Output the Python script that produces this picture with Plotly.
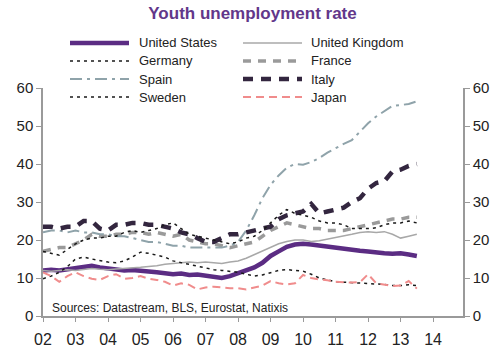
import plotly.graph_objects as go

# quarterly time points 2002.00 .. 2013.50
years = [2002 + q * 0.25 for q in range(47)]

us = [12.0, 12.2, 12.0, 12.3, 12.5, 12.8, 13.2, 12.8, 12.5, 12.2, 12.0, 12.1,
      12.0, 11.7, 11.5, 11.3, 11.0, 11.2, 10.8, 10.9, 10.5, 10.3, 10.0, 10.5,
      11.2, 12.0, 12.8, 14.0, 15.8, 17.0, 18.2, 18.8, 19.0, 18.8, 18.5, 18.3,
      18.0, 17.6, 17.5, 17.2, 17.0, 16.6, 16.5, 16.4, 16.5, 16.2, 15.8]
uk = [12.0, 11.8, 12.0, 12.2, 12.0, 12.3, 12.5, 12.3, 12.2, 12.4, 12.5, 12.7,
      12.8, 13.0, 13.2, 13.6, 13.8, 14.0, 14.2, 14.0, 14.2, 14.0, 13.8, 14.2,
      14.5, 15.2, 16.2, 17.0, 18.2, 19.0, 19.6, 20.0, 20.0, 19.6, 19.8, 20.2,
      20.5, 21.0, 21.5, 22.0, 22.2, 22.0, 22.2, 21.5, 20.5, 21.0, 21.5]
germany = [9.8, 10.5, 11.5, 13.0, 15.0, 15.5, 15.0, 14.5, 14.2, 14.0, 14.5, 15.5,
           16.8, 16.5, 16.0, 15.5, 14.5, 14.0, 13.5, 13.0, 12.5, 12.2, 12.0, 11.8,
           11.5, 11.0, 10.5, 10.8, 11.5, 12.0, 12.2, 12.0, 11.8, 11.0, 10.0, 9.5,
           9.0, 8.9, 8.8, 8.7, 8.5, 8.4, 8.3, 8.0, 8.0, 8.2, 8.0]
france = [17.0, 17.5, 18.0, 18.0, 19.0, 20.0, 21.5, 21.0, 21.0, 21.5, 21.5, 22.0,
          22.0, 21.5, 22.0, 21.5, 21.0, 21.5, 20.0, 19.5, 19.0, 19.0, 18.5, 18.0,
          18.5, 19.0, 19.5, 21.0, 22.5, 23.5, 24.5, 24.0, 23.5, 23.0, 23.0, 22.5,
          22.5, 22.5, 23.0, 23.5, 24.0, 24.5, 25.0, 25.5, 25.5, 26.0, 26.0]
spain = [22.0, 22.5, 22.5, 22.0, 22.5, 22.0, 22.0, 21.5, 21.5, 21.0, 21.0, 20.5,
         20.0, 19.5, 19.5, 19.0, 18.5, 18.5, 18.0, 18.0, 18.0, 18.0, 18.0, 18.5,
         19.5, 22.5, 26.5, 31.0, 34.5, 37.0, 39.0, 40.0, 39.8, 40.5, 41.6, 43.0,
         44.2, 45.3, 46.3, 48.5, 50.7, 52.5, 53.8, 55.3, 55.5, 55.8, 56.5]
italy = [23.5, 23.5, 23.0, 23.5, 23.5, 25.0, 25.0, 23.0, 22.5, 24.0, 24.0, 24.5,
         24.5, 24.0, 24.0, 23.5, 23.0, 22.0, 21.5, 20.5, 19.5, 19.5, 20.5, 21.5,
         21.5, 22.0, 22.5, 23.0, 23.5, 25.5, 26.5, 27.0, 27.5, 29.5, 27.0, 27.5,
         28.0, 28.5, 30.0, 31.0, 33.5, 35.0, 35.5, 38.0, 38.5, 39.5, 40.0]
sweden = [17.0, 16.5, 16.0, 17.5, 19.0, 20.0, 20.5, 20.5, 21.0, 21.0, 22.0, 22.5,
          22.0, 22.5, 23.0, 24.0, 24.5, 23.0, 21.5, 21.0, 20.5, 20.0, 19.5, 19.0,
          19.5, 20.5, 21.0, 22.5, 24.5, 26.5, 28.0, 27.0, 26.5, 26.0, 25.0, 24.5,
          24.5, 24.0, 23.0, 23.0, 23.0, 23.2, 24.0, 24.5, 24.5, 25.0, 24.5]
japan = [11.5, 10.5, 9.0, 10.5, 11.5, 10.5, 9.8, 9.5, 10.5, 11.0, 9.8, 10.0,
         10.5, 9.8, 9.5, 9.0, 8.0, 8.6, 8.2, 7.0, 7.5, 7.7, 7.5, 7.3,
         7.3, 7.0, 7.5, 8.0, 9.2, 8.6, 8.3, 8.6, 10.8, 10.0, 9.6, 9.4,
         9.0, 8.9, 8.8, 8.9, 11.0, 8.6, 8.2, 7.9, 8.0, 9.2, 7.2]

tick_years = list(range(2002, 2015))
tick_labels = ["%02d" % (y % 100) for y in tick_years]
y_ticks = [0, 10, 20, 30, 40, 50, 60]

series_names = ["United States", "United Kingdom", "Germany", "France",
                "Spain", "Italy", "Sweden", "Japan"]
series_values = [us, uk, germany, france, spain, italy, sweden, japan]
series_lines = [
    dict(color="#5b2c83", width=4.5, dash="solid"),
    dict(color="#a8a8a8", width=1.5, dash="solid"),
    dict(color="#1a1a1a", width=1.5, dash="3px,4px"),
    dict(color="#9a9a9a", width=3.5, dash="8px,7px"),
    dict(color="#8fa3aa", width=2, dash="12px,5px,3px,5px"),
    dict(color="#33263f", width=4.5, dash="10px,8px"),
    dict(color="#1a1a1a", width=1.5, dash="3px,4px"),
    dict(color="#f08c8c", width=2, dash="8px,5px"),
]

fig = go.Figure()
for name, vals, line in zip(series_names, series_values, series_lines):
    fig.add_trace(go.Scatter(x=years, y=vals, mode="lines", name=name, line=line,
                             showlegend=False))

# invisible trace so the right-hand axis is drawn
fig.add_trace(go.Scatter(x=[2002], y=[None], yaxis="y2", showlegend=False,
                         hoverinfo="skip", mode="lines"))

# legend drawn as a 2-column key above the plot (paper coordinates)
W, H = 500, 357
ML, MR, MT, MB = 43, 37, 88, 41
pw, ph = W - ML - MR, H - MT - MB


def px_x(px):
    return (px - ML) / pw


def px_y(py):
    return (H - MB - py) / ph


shapes = []
annotations = []
row_y = [43, 61, 79, 97]
col_x = [(70, 129, 137), (243, 302, 309)]
for i, (name, line) in enumerate(zip(series_names, series_lines)):
    row, col = i // 2, i % 2
    x0, x1, xt = col_x[col]
    yy = px_y(row_y[row])
    shapes.append(dict(type="line", xref="paper", yref="paper",
                       x0=px_x(x0), x1=px_x(x1), y0=yy, y1=yy,
                       line=dict(color=line["color"], width=line["width"],
                                 dash=line["dash"])))
    annotations.append(dict(text=name, xref="paper", yref="paper", x=px_x(xt), y=yy,
                            xanchor="left", yanchor="middle", showarrow=False,
                            font=dict(family="Liberation Sans, Arial", size=13,
                                      color="#222")))

annotations.append(dict(text="Sources: Datastream, BLS, Eurostat, Natixis",
                        xref="paper", yref="paper", x=px_x(50), y=px_y(308),
                        xanchor="left", yanchor="middle", showarrow=False,
                        font=dict(family="Liberation Sans, Arial", size=12, color="#222")))

axis_col = "#9a9a9a"
tickfont = dict(family="Liberation Sans, Arial", size=15, color="#222")
xtickfont = dict(family="Liberation Sans, Arial", size=16, color="#222")

fig.update_layout(
    width=W, height=H,
    margin=dict(l=ML, r=MR, t=MT, b=MB, autoexpand=False),
    paper_bgcolor="white", plot_bgcolor="white",
    font=dict(family="Liberation Sans, Arial", color="#222"),
    title=dict(text="<b>Youth unemployment rate</b>", x=0.505, xanchor="center",
               y=1 - 13 / H, yanchor="middle",
               font=dict(family="Liberation Sans, Arial", size=17, color="#62378a")),
    showlegend=False,
    xaxis=dict(range=[2002, 2014.92], tickvals=tick_years, ticktext=tick_labels,
               showgrid=False, zeroline=False, showline=True, linecolor=axis_col,
               linewidth=1.5, ticks="outside", ticklen=4, tickcolor=axis_col,
               tickfont=xtickfont, ticklabelstandoff=4, automargin=False),
    yaxis=dict(range=[0, 60], tickvals=y_ticks, showgrid=False, zeroline=False,
               showline=True, linecolor=axis_col, linewidth=1.5, ticks="outside",
               ticklen=5, tickcolor=axis_col, tickfont=tickfont, automargin=False),
    yaxis2=dict(range=[0, 60], tickvals=y_ticks, overlaying="y", side="right",
                showgrid=False, zeroline=False, showline=True, linecolor=axis_col,
                linewidth=1.5, ticks="outside", ticklen=5, tickcolor=axis_col,
                tickfont=tickfont, automargin=False),
    shapes=shapes,
    annotations=annotations,
)

fig.write_html("out.html", config={"displayModeBar": False},
               post_script="document.body.style.margin='0';")
